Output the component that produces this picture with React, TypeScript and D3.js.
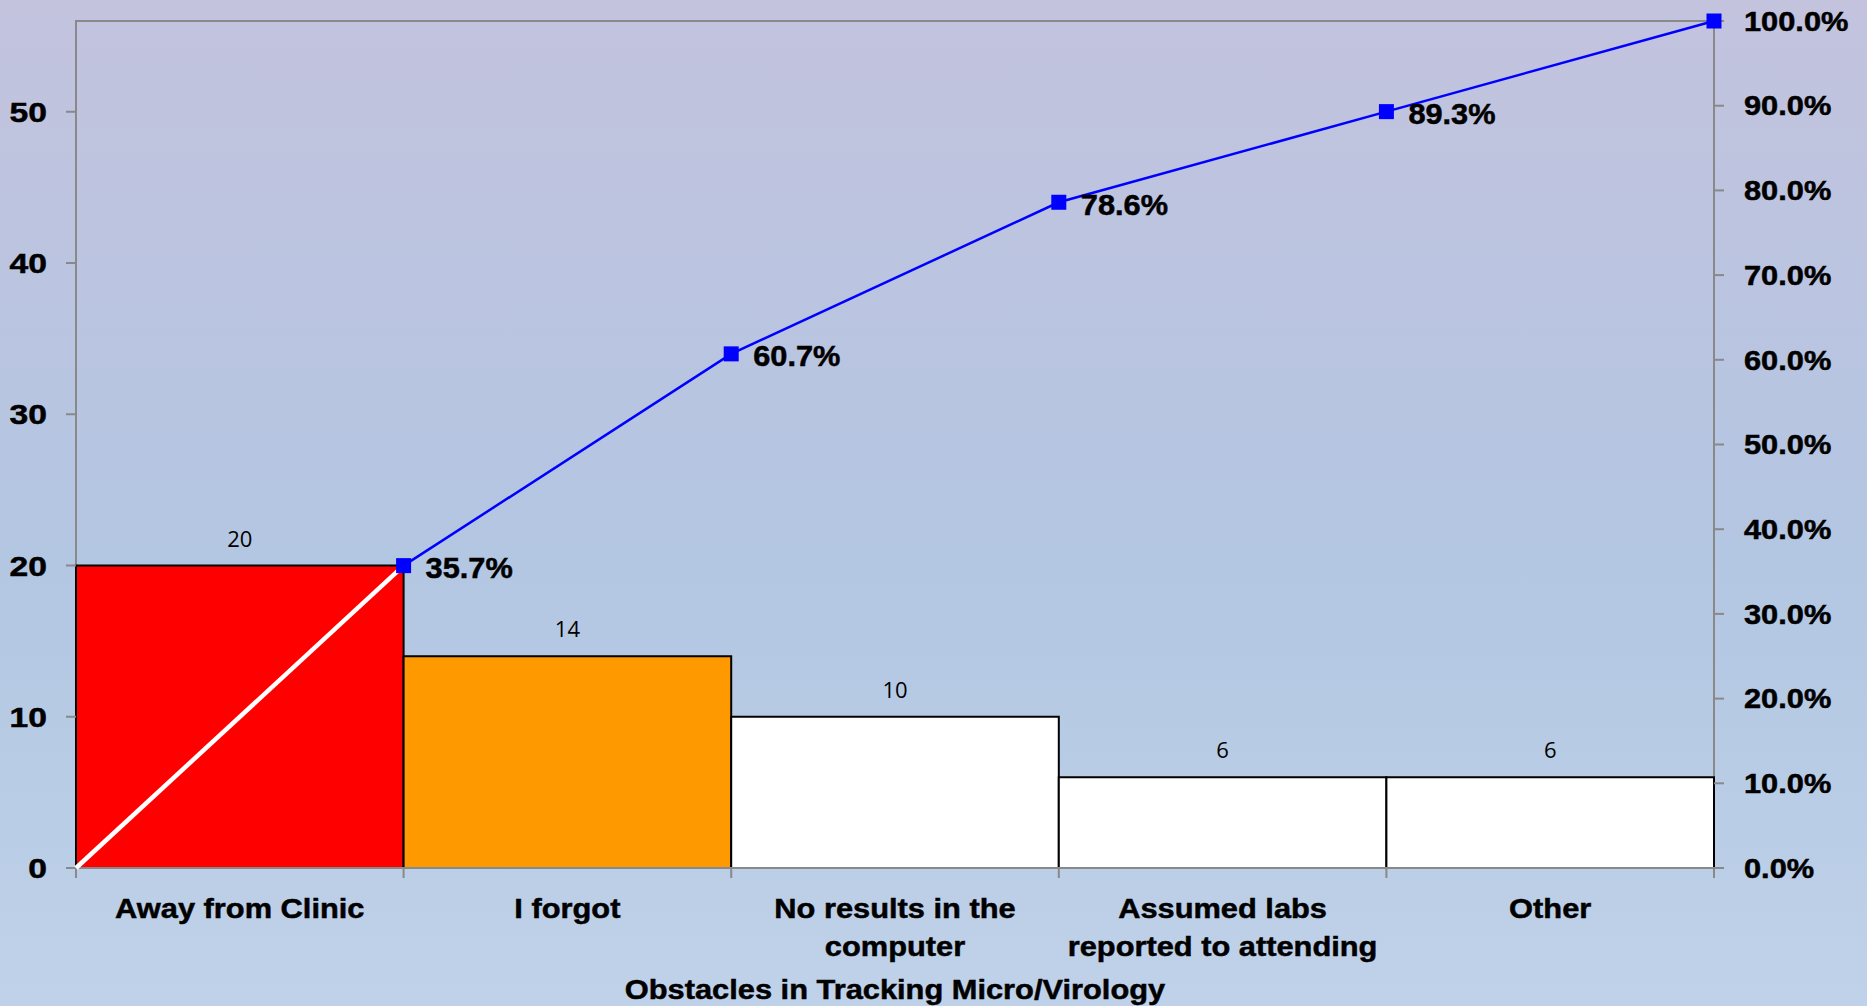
import React, { useRef, useEffect } from 'react';
import * as d3 from 'd3';

// chart data
const categories = [
    ['Away from Clinic'],
    ['I forgot'],
    ['No results in the', 'computer'],
    ['Assumed labs', 'reported to attending'],
    ['Other'],
];
const counts = [20, 14, 10, 6, 6];
const cumulativePct = [35.7, 60.7, 78.6, 89.3, 100.0];
const barColors = ['#FF0000', '#FF9900', '#FFFFFF', '#FFFFFF', '#FFFFFF'];
const leftTicks = [0, 10, 20, 30, 40, 50];
const rightTicks = [0, 10, 20, 30, 40, 50, 60, 70, 80, 90, 100];
const axisTitle = 'Obstacles in Tracking Micro/Virology';

// widen bold text a bit, the original font is broader than Arial
const stretch = (sel, factor) => {
    sel.each(function () {
        const len = this.getComputedTextLength();
        d3.select(this)
            .attr('textLength', len * factor)
            .attr('lengthAdjust', 'spacingAndGlyphs');
    });
};

const ParetoChart = ({ width = 1867, height = 1006 }) => {
    const svgRef = useRef(null);

    useEffect(() => {
        const svg = d3.select(svgRef.current);
        svg.selectAll('*').remove();

        const margin = { top: 21, right: 153, bottom: 138, left: 76 };
        const x0 = margin.left;
        const x1 = width - margin.right;
        const y0 = height - margin.bottom;
        const y1 = margin.top;

        const boldFont = '"Liberation Sans", Arial, sans-serif';
        const bold = (s) =>
            s.attr('font-family', boldFont)
                .attr('font-weight', 'bold')
                .attr('stroke', '#000')
                .attr('stroke-width', 0.5)
                .attr('fill', '#000');

        // background gradient
        const defs = svg.append('defs');
        const grad = defs
            .append('linearGradient')
            .attr('id', 'bg')
            .attr('x1', 0)
            .attr('y1', 0)
            .attr('x2', 0)
            .attr('y2', 1);
        grad.append('stop').attr('offset', '0%').attr('stop-color', '#C3C3DE');
        grad.append('stop').attr('offset', '55%').attr('stop-color', '#B3C6E2');
        grad.append('stop').attr('offset', '100%').attr('stop-color', '#BFD2E9');
        svg.append('rect').attr('width', width).attr('height', height).attr('fill', 'url(#bg)');

        const names = categories.map((c) => c.join(' '));
        const xScale = d3.scaleBand().domain(names).range([x0, x1]).padding(0);
        const yLeft = d3.scaleLinear().domain([0, d3.sum(counts)]).range([y0, y1]);
        const yRight = d3.scaleLinear().domain([0, 100]).range([y0, y1]);

        // plot frame
        svg.append('rect')
            .attr('x', x0)
            .attr('y', y1)
            .attr('width', x1 - x0)
            .attr('height', y0 - y1)
            .attr('fill', 'none')
            .attr('stroke', '#898989')
            .attr('stroke-width', 2);

        // bars
        svg.append('g')
            .selectAll('rect')
            .data(counts)
            .enter()
            .append('rect')
            .attr('x', (d, i) => xScale(names[i]))
            .attr('y', (d) => yLeft(d))
            .attr('width', xScale.bandwidth())
            .attr('height', (d) => y0 - yLeft(d))
            .attr('fill', (d, i) => barColors[i])
            .attr('stroke', '#000')
            .attr('stroke-width', 2);

        // bar value labels
        svg.append('g')
            .selectAll('text')
            .data(counts)
            .enter()
            .append('text')
            .attr('x', (d, i) => xScale(names[i]) + xScale.bandwidth() / 2)
            .attr('y', (d) => yLeft(d) - 19)
            .attr('text-anchor', 'middle')
            .attr('font-family', '"Open Sans", sans-serif')
            .attr('font-size', 22)
            .attr('fill', '#000')
            .text((d) => d);

        // bottom axis line + ticks
        svg.append('line')
            .attr('x1', x0).attr('x2', x1)
            .attr('y1', y0).attr('y2', y0)
            .attr('stroke', '#898989').attr('stroke-width', 2);
        const xTicks = names.map((n) => xScale(n)).concat([x1]);
        svg.append('g')
            .selectAll('line')
            .data(xTicks)
            .enter()
            .append('line')
            .attr('x1', (d) => d).attr('x2', (d) => d)
            .attr('y1', y0).attr('y2', y0 + 10)
            .attr('stroke', '#898989').attr('stroke-width', 2);

        // category labels
        const catG = svg.append('g').attr('text-anchor', 'middle');
        categories.forEach((lines, i) => {
            const cx = xScale(names[i]) + xScale.bandwidth() / 2;
            lines.forEach((ln, j) => {
                catG.append('text')
                    .attr('x', cx)
                    .attr('y', 918 + j * 38)
                    .attr('font-size', 28)
                    .call(bold)
                    .text(ln);
            });
        });
        stretch(catG.selectAll('text'), 1.1);

        // x axis title
        svg.append('text')
            .attr('x', (x0 + x1) / 2)
            .attr('y', 999)
            .attr('text-anchor', 'middle')
            .attr('font-size', 28)
            .call(bold)
            .text(axisTitle)
            .call(stretch, 1.1);

        // left axis ticks
        const leftG = svg.append('g');
        leftTicks.forEach((t) => {
            leftG.append('line')
                .attr('x1', x0 - 10).attr('x2', x0)
                .attr('y1', yLeft(t)).attr('y2', yLeft(t))
                .attr('stroke', '#898989').attr('stroke-width', 2);
            leftG.append('text')
                .attr('x', 47)
                .attr('y', yLeft(t))
                .attr('dy', '0.36em')
                .attr('text-anchor', 'end')
                .attr('font-size', 28)
                .call(bold)
                .text(t);
        });
        stretch(leftG.selectAll('text'), 1.2);

        // right axis ticks
        const rightG = svg.append('g');
        rightTicks.forEach((t) => {
            rightG.append('line')
                .attr('x1', x1).attr('x2', x1 + 10)
                .attr('y1', yRight(t)).attr('y2', yRight(t))
                .attr('stroke', '#898989').attr('stroke-width', 2);
            rightG.append('text')
                .attr('x', x1 + 30)
                .attr('y', yRight(t))
                .attr('dy', '0.36em')
                .attr('font-size', 27)
                .call(bold)
                .text(t.toFixed(1) + '%');
        });
        stretch(rightG.selectAll('text'), 1.14);

        // cumulative line
        const pts = cumulativePct.map((p, i) => [xScale(names[i]) + xScale.bandwidth(), yRight(p)]);
        const line = d3.line();

        // first segment from origin is drawn white
        svg.append('path')
            .attr('d', line([[x0, yRight(0)], pts[0]]))
            .attr('stroke', '#FFFFFF')
            .attr('stroke-width', 4.5)
            .attr('fill', 'none');

        svg.append('path')
            .attr('d', line(pts))
            .attr('stroke', '#0000FF')
            .attr('stroke-width', 2.5)
            .attr('fill', 'none');

        svg.append('g')
            .selectAll('rect')
            .data(pts)
            .enter()
            .append('rect')
            .attr('x', (d) => d[0] - 7.5)
            .attr('y', (d) => d[1] - 7.5)
            .attr('width', 15)
            .attr('height', 15)
            .attr('fill', '#0000FF');

        // point labels (last one sits on the frame edge, no label)
        const ptG = svg.append('g');
        ptG.selectAll('text')
            .data(pts.slice(0, -1))
            .enter()
            .append('text')
            .attr('x', (d) => d[0] + 22)
            .attr('y', (d) => d[1] + 2)
            .attr('dy', '0.36em')
            .attr('font-size', 29)
            .call(bold)
            .text((d, i) => cumulativePct[i].toFixed(1) + '%');
        stretch(ptG.selectAll('text'), 1.06);
    }, [width, height]);

    return (
        <svg
            ref={svgRef}
            width={width}
            height={height}
            style={{ position: 'absolute', left: 0, top: 0, display: 'block' }}
        ></svg>
    );
};

export default function App() {
    return <ParetoChart />;
}
